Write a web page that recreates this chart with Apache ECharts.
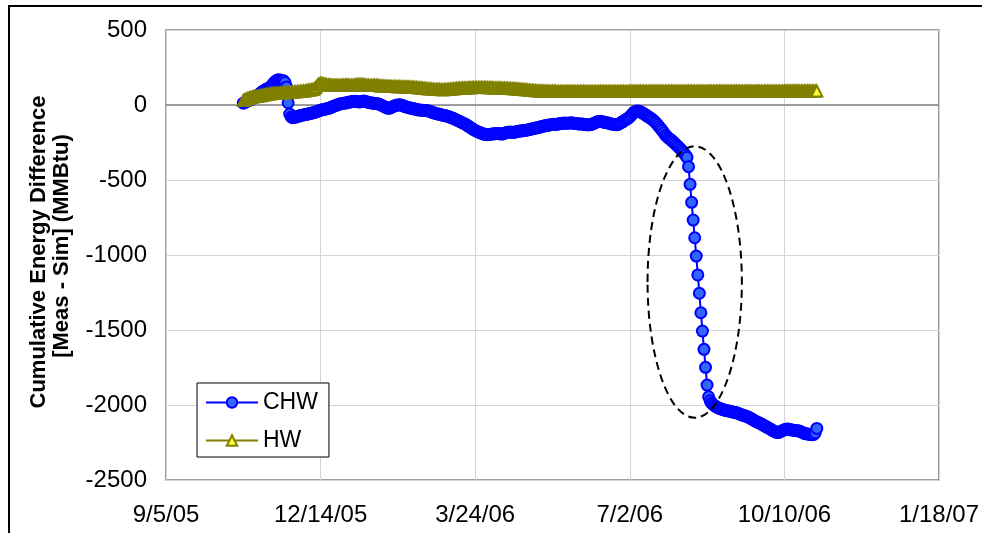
<!DOCTYPE html>
<html>
<head>
<meta charset="utf-8">
<script src="https://cdn.jsdelivr.net/npm/echarts@6/dist/echarts.min.js"></script>
<style>
html,body{margin:0;padding:0;background:#fff;}
#chart{width:982px;height:533px;}
</style>
</head>
<body>
<div id="chart"></div>
<script>
// x axis: days since 9/5/05
const xTickLabels = ['9/5/05', '12/14/05', '3/24/06', '7/2/06', '10/10/06', '1/18/07'];
const xMin = 0, xMax = 500, xStep = 100;
const yMin = -2500, yMax = 500, yStep = 500;

// daily readings, first reading on day 50 (10/25/05)
const chwStartDay = 50;
const chwValues = [
  12,18,22,28,33,38,44,49,55,62,
  70,78,86,94,100,106,110,115,125,138,
  150,160,166,168,165,160,162,150,120,15,
  -60,-80,-85,-82,-80,-78,-74,-70,-68,-66,
  -63,-62,-60,-57,-55,-52,-50,-46,-42,-38,
  -35,-32,-30,-28,-25,-22,-20,-15,-10,-6,
  -2,2,5,8,10,12,13,15,18,20,
  22,24,25,24,22,20,22,25,26,24,
  20,18,15,14,12,10,10,8,5,0,
  -5,-10,-15,-20,-22,-20,-15,-10,-5,-2,
  0,2,0,-3,-8,-12,-15,-18,-20,-22,
  -25,-27,-30,-32,-34,-35,-35,-36,-37,-38,
  -40,-44,-48,-52,-55,-58,-60,-62,-65,-68,
  -70,-72,-75,-78,-82,-86,-90,-95,-100,-105,
  -110,-115,-120,-125,-130,-137,-144,-150,-158,-165,
  -170,-175,-180,-184,-188,-192,-195,-197,-198,-197,
  -195,-193,-192,-191,-190,-190,-192,-194,-192,-188,
  -185,-182,-181,-180,-182,-183,-180,-177,-175,-174,
  -172,-171,-170,-168,-166,-164,-161,-158,-156,-154,
  -152,-150,-147,-144,-141,-139,-137,-135,-133,-131,
  -130,-129,-130,-128,-126,-124,-122,-121,-120,-121,
  -122,-120,-118,-120,-122,-124,-125,-126,-127,-126,
  -128,-130,-131,-132,-131,-130,-126,-121,-116,-112,
  -110,-109,-111,-113,-116,-118,-120,-123,-126,-128,
  -130,-131,-131,-126,-120,-114,-108,-100,-94,-88,
  -80,-68,-56,-46,-42,-40,-42,-46,-52,-58,
  -64,-72,-79,-85,-92,-100,-110,-120,-132,-145,
  -158,-170,-185,-200,-210,-220,-228,-236,-245,-255,
  -265,-275,-285,-296,-308,-320,-334,-349,-411,-529,
  -649,-767,-885,-1007,-1133,-1255,-1385,-1507,-1629,-1749,
  -1867,-1945,-1972,-1988,-1998,-2006,-2012,-2018,-2022,-2026,
  -2030,-2033,-2036,-2038,-2040,-2042,-2045,-2048,-2050,-2052,
  -2055,-2060,-2064,-2068,-2071,-2074,-2078,-2082,-2088,-2094,
  -2100,-2106,-2111,-2116,-2121,-2126,-2132,-2138,-2144,-2149,
  -2155,-2161,-2167,-2173,-2178,-2182,-2184,-2180,-2175,-2170,
  -2165,-2162,-2160,-2162,-2165,-2167,-2168,-2170,-2171,-2172,
  -2175,-2180,-2185,-2189,-2192,-2193,-2195,-2197,-2198,-2196,
  -2185,-2156
];

const hwStartDay = 50;
const hwValues = [
  30,35,40,44,48,51,53,55,57,58,
  60,62,64,66,68,70,72,74,75,76,
  77,78,78,79,80,80,81,82,82,83,
  84,85,86,87,88,89,90,91,92,93,
  94,96,98,100,102,104,108,118,132,142,
  145,143,140,138,136,134,133,132,132,131,
  131,130,130,131,132,132,133,133,132,131,
  130,131,133,135,136,136,137,136,135,134,
  132,131,130,130,131,132,131,130,128,127,
  126,126,125,125,124,124,124,123,123,122,
  122,122,121,121,121,120,120,120,119,119,
  118,117,116,115,114,113,112,111,110,109,
  108,107,106,105,104,104,103,103,102,102,
  102,103,104,105,106,107,108,109,110,111,
  112,112,113,113,114,114,115,115,115,116,
  116,116,116,117,117,117,116,116,115,115,
  115,115,114,114,114,113,113,112,112,111,
  111,111,110,110,109,109,108,107,106,105,
  104,103,102,101,100,99,98,97,96,95,
  95,94,94,93,93,92,92,92,91,91,
  91,91,91,90,90,90,90,90,90,90,
  90,90,90,90,90,90,90,90,90,90,
  90,90,90,90,90,90,90,90,90,90,
  90,90,90,90,90,90,90,90,90,90,
  90,90,90,90,90,90,90,90,90,90,
  91,91,91,91,91,91,91,91,91,91,
  91,91,91,91,91,91,91,91,91,91,
  91,91,91,91,91,91,91,91,91,91,
  91,91,91,91,91,91,91,91,91,91,
  91,91,91,91,91,91,91,91,91,91,
  92,92,92,92,92,92,92,92,92,92,
  92,92,92,92,92,92,92,92,92,92,
  92,92,92,92,92,92,92,92,92,92,
  92,92,92,92,92,92,92,92,92,92,
  92,92,92,92,92,92,92,92,92,92,
  93,93,93,93,93,93,93,93,93,93,
  93,93,93,93,93,93,93,93,93,93,
  93,93
];

// dashed ellipse annotation in data units (centre day, centre value, half extents)
const ellipseAnno = { day: 342, value: -1180, halfDays: 30.5, halfValue: 905 };

const yTitleLines = ['Cumulative Energy Difference', '[Meas - Sim] (MMBtu)'];
const FONT = '"Liberation Sans", Arial, sans-serif';

const chwData = chwValues.map((v, i) => [chwStartDay + i, v]);
const hwData = hwValues.map((v, i) => [hwStartDay + i, v]);

const chart = echarts.init(document.getElementById('chart'), null, { renderer: 'canvas' });

const option = {
  animation: false,
  backgroundColor: '#ffffff',
  textStyle: { fontFamily: FONT },
  grid: {
    left: 166, right: 40, top: 30, bottom: 53,
    show: true, borderColor: '#808080', borderWidth: 1.5, backgroundColor: 'transparent'
  },
  xAxis: {
    type: 'value', min: xMin, max: xMax, interval: xStep,
    axisLine: { show: false, onZero: false },
    axisTick: { show: false },
    splitLine: { show: true, lineStyle: { color: '#d4d4d4', width: 1 } },
    axisLabel: {
      margin: 23, fontSize: 24, color: '#000', fontFamily: FONT,
      formatter: v => xTickLabels[Math.round((v - xMin) / xStep)]
    }
  },
  yAxis: {
    type: 'value', min: yMin, max: yMax, interval: yStep,
    axisLine: { show: false },
    axisTick: { show: false },
    splitLine: { show: true, lineStyle: { color: '#d4d4d4', width: 1 } },
    axisLabel: { margin: 19, fontSize: 24, color: '#000', fontFamily: FONT, formatter: v => String(v) }
  },
  legend: {
    orient: 'vertical',
    left: 197, top: 383,
    backgroundColor: '#fff',
    borderColor: '#000', borderWidth: 1,
    padding: [8, 11, 5, 8],
    itemWidth: 52, itemHeight: 13, itemGap: 15,
    textStyle: { fontSize: 23, lineHeight: 22, color: '#000', fontFamily: FONT },
    data: ['CHW', 'HW']
  },
  series: [
    {
      name: 'CHW', type: 'line', data: chwData,
      symbol: 'circle', symbolSize: 11,
      lineStyle: { color: '#0000FF', width: 2 },
      itemStyle: { color: '#3366FF', borderColor: '#0000FF', borderWidth: 2 },
      z: 2,
      markLine: {
        silent: true, symbol: 'none', z: 1,
        label: { show: false },
        lineStyle: { color: '#808080', width: 1.5, type: 'solid' },
        data: [{ yAxis: 0 }]
      }
    },
    {
      name: 'HW', type: 'line', data: hwData,
      symbol: 'triangle', symbolSize: 11,
      lineStyle: { color: '#808000', width: 3 },
      itemStyle: { color: '#FFFF33', borderColor: '#808000', borderWidth: 2 },
      z: 3
    }
  ]
};

chart.setOption(option);

// annotation graphics placed via the chart's own coordinate conversion
const c = chart.convertToPixel({ gridIndex: 0 }, [ellipseAnno.day, ellipseAnno.value]);
const e1 = chart.convertToPixel({ gridIndex: 0 }, [ellipseAnno.day + ellipseAnno.halfDays, ellipseAnno.value + ellipseAnno.halfValue]);
const titleStyle = { fontSize: 22, fontWeight: 'bold', fontFamily: FONT, fill: '#000', align: 'center', verticalAlign: 'middle' };
chart.setOption({
  graphic: [
    {
      type: 'rect', silent: true, z: 0,
      shape: { x: 9, y: 6, width: 1000, height: 600 },
      style: { fill: 'none', stroke: '#000', lineWidth: 2 }
    },
    {
      type: 'ellipse', silent: true, z: 10,
      shape: { cx: c[0], cy: c[1], rx: Math.abs(e1[0] - c[0]), ry: Math.abs(e1[1] - c[1]) },
      style: { fill: 'none', stroke: '#000', lineWidth: 2, lineDash: [8, 5] }
    },
    {
      type: 'text', silent: true, z: 10,
      x: 38.5, y: 252, rotation: Math.PI / 2,
      style: Object.assign({ text: yTitleLines[0] }, titleStyle)
    },
    {
      type: 'text', silent: true, z: 10,
      x: 61.5, y: 246, rotation: Math.PI / 2,
      style: Object.assign({ text: yTitleLines[1] }, titleStyle)
    }
  ]
});
</script>
</body>
</html>
